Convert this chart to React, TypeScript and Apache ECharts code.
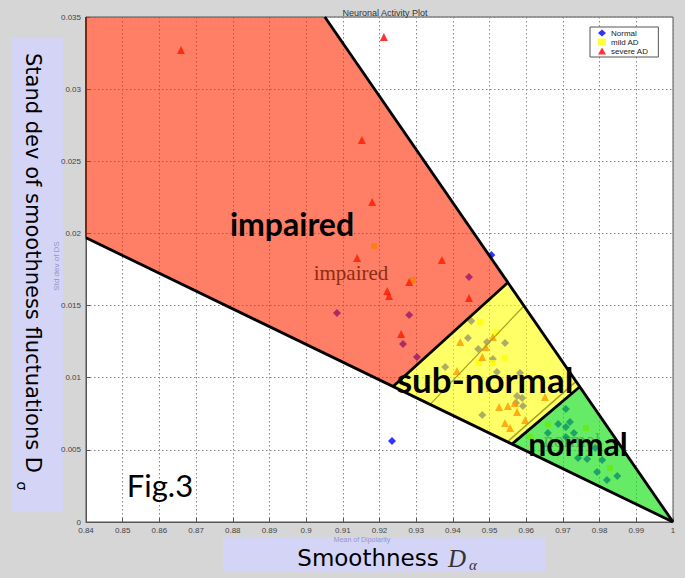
import React, { useEffect, useRef } from 'react';
import * as echarts from 'echarts';

// ---- axes ----
const X_MIN = 0.84;
const X_MAX = 1;
const X_STEP = 0.01;
const Y_MIN = 0;
const Y_MAX = 0.035;
const Y_STEP = 0.005;

const chartTitle = 'Neuronal Activity Plot';
const seriesNames = ['Normal', 'mild AD', 'severe AD'];

// ---- data points [mean of dipolarity, std dev] ----
const normalPoints: [number, number][] = [
  [0.9084, 0.01448], [0.9281, 0.01435], [0.9264, 0.01234], [0.9302, 0.01143],
  [0.9444, 0.01698], [0.9505, 0.0185], [0.9234, 0.00561],
  [0.945, 0.01393], [0.9441, 0.01275], [0.9469, 0.01199], [0.9493, 0.01247],
  [0.952, 0.0104], [0.9509, 0.0113], [0.9542, 0.0124], [0.9379, 0.01074],
  [0.9575, 0.00873], [0.9589, 0.00859], [0.9583, 0.01033], [0.948, 0.00742],
  [0.9572, 0.00825], [0.9591, 0.00804],
  [0.9708, 0.00783], [0.9719, 0.00693], [0.9708, 0.00658], [0.9687, 0.00679],
  [0.973, 0.00617], [0.9659, 0.00617], [0.9708, 0.00589], [0.9741, 0.00444],
  [0.9766, 0.00437], [0.9793, 0.00347], [0.9807, 0.0043], [0.982, 0.00291],
  [0.9848, 0.00319], [0.9788, 0.00513],
];

const mildPoints: [number, number][] = [
  [0.9185, 0.01913], [0.9291, 0.01677], [0.9474, 0.01386], [0.952, 0.01317],
  [0.9509, 0.01102], [0.9542, 0.01137], [0.9471, 0.01102], [0.9763, 0.00651],
  [0.9828, 0.00374], [0.961, 0.00589], [0.9659, 0.00679],
];

const severePoints: [number, number][] = [
  [0.8659, 0.03271], [0.9212, 0.03361], [0.9152, 0.02647], [0.918, 0.02218],
  [0.9139, 0.0183], [0.937, 0.01816], [0.9281, 0.01663], [0.9221, 0.01601],
  [0.9226, 0.01566], [0.9444, 0.01552], [0.9259, 0.01303],
  [0.942, 0.01247], [0.9509, 0.01282], [0.949, 0.01213], [0.948, 0.01143],
  [0.9411, 0.01046], [0.9526, 0.00797], [0.955, 0.00804], [0.9569, 0.00825],
  [0.9575, 0.00762], [0.9542, 0.00686], [0.9556, 0.00651], [0.9597, 0.00707],
  [0.9651, 0.00866], [0.9501, 0.00929],
];

// ---- regions ----
const impairedRegion: [number, number][] = [
  [0.84, 0.035], [0.9051, 0.035], [0.955, 0.0166], [0.9237, 0.00939], [0.84, 0.0197],
];
const subNormalRegion: [number, number][] = [
  [0.955, 0.0166], [0.9746, 0.00937], [0.9561, 0.0054], [0.9237, 0.00939],
];
const normalRegion: [number, number][] = [
  [0.9746, 0.00937], [1, 0], [0.9561, 0.0054],
];

// ---- boundary lines ----
const rightEdge: [number, number][] = [[0.9051, 0.035], [1, 0]];
const lowerEdge: [number, number][] = [[0.84, 0.0197], [1, 0]];
const impairedSubEdge: [number, number][] = [[0.955, 0.0166], [0.9237, 0.00939]];
const subNormalEdge: [number, number][] = [[0.9746, 0.00937], [0.9561, 0.0054]];
const innerLineA: [number, number][] = [[0.9591, 0.0149], [0.9338, 0.00815]];
const innerLineB: [number, number][] = [[0.9736, 0.00975], [0.9549, 0.00556]];
const leftEdge: [number, number][] = [[0.84, 0.0197], [0.84, 0.035]];

const fmt = (v: number) => String(+v.toFixed(3));

function regionSeries(verts: [number, number][], fill: string, z: number) {
  return {
    type: 'custom',
    coordinateSystem: 'cartesian2d',
    silent: true,
    z,
    data: [verts[0]],
    renderItem: (_p: any, api: any) => ({
      type: 'polygon',
      shape: { points: verts.map((v) => api.coord(v)) },
      style: { fill, stroke: 'none' },
    }),
  };
}

export default function App() {
  const ref = useRef<HTMLDivElement>(null);

  useEffect(() => {
    if (!ref.current) return;
    const chart = echarts.init(ref.current, undefined, { renderer: 'svg' });

    const lines = [
      { pts: innerLineA, color: '#a8a020', width: 1.2 },
      { pts: innerLineB, color: '#a8a020', width: 1.5 },
      { pts: leftEdge, color: '#7a2a10', width: 2 },
      { pts: rightEdge, color: '#000', width: 2.8 },
      { pts: lowerEdge, color: '#000', width: 2.8 },
      { pts: impairedSubEdge, color: '#000', width: 2.8 },
      { pts: subNormalEdge, color: '#000', width: 2.8 },
    ];

    const option: any = {
      animation: false,
      backgroundColor: '#d6d6d6',
      title: {
        text: chartTitle,
        left: 380,
        top: 3,
        textAlign: 'center',
        textStyle: { fontSize: 9, fontWeight: 'normal', color: '#333', fontFamily: 'Liberation Sans' },
      },
      legend: {
        orient: 'vertical',
        left: 590,
        top: 27,
        data: [
          { name: seriesNames[0], icon: 'diamond' },
          { name: seriesNames[1], icon: 'rect' },
          { name: seriesNames[2], icon: 'triangle' },
        ],
        itemWidth: 8,
        itemHeight: 7,
        itemGap: 1,
        itemTextGap: 4,
        backgroundColor: '#fff',
        borderColor: '#555',
        borderWidth: 1,
        borderRadius: 0,
        padding: [2, 10, 2, 8],
        textStyle: { fontSize: 8, color: '#222', lineHeight: 8, fontFamily: 'Liberation Sans' },
      },
      grid: {
        left: 86,
        right: 12,
        top: 17,
        bottom: 56,
        show: true,
        backgroundColor: '#fff',
        borderColor: '#555',
        borderWidth: 1,
      },
      xAxis: {
        type: 'value',
        min: X_MIN,
        max: X_MAX,
        interval: X_STEP,
        axisLine: { show: true, lineStyle: { color: '#555' } },
        axisTick: { show: true, inside: true, length: 4, lineStyle: { color: '#555' } },
        axisLabel: { fontSize: 8, color: '#444', margin: 4, formatter: fmt, fontFamily: 'Liberation Sans' },
        splitLine: { show: true, lineStyle: { color: '#888', type: [1.5, 2.5], width: 1 } },
      },
      yAxis: {
        type: 'value',
        min: Y_MIN,
        max: Y_MAX,
        interval: Y_STEP,
        axisLine: { show: true, lineStyle: { color: '#555' } },
        axisTick: { show: true, inside: true, length: 4, lineStyle: { color: '#555' } },
        axisLabel: { fontSize: 8, color: '#444', margin: 5, formatter: fmt, fontFamily: 'Liberation Sans' },
        splitLine: { show: true, lineStyle: { color: '#888', type: [1.5, 2.5], width: 1 } },
      },
      series: [
        {
          type: 'scatter', name: seriesNames[0], data: normalPoints, symbol: 'diamond',
          symbolSize: 8, itemStyle: { color: '#0000ff' }, z: 2,
        },
        {
          type: 'scatter', name: seriesNames[1], data: mildPoints, symbol: 'rect',
          symbolSize: 6, itemStyle: { color: '#ffff00' }, z: 2,
        },
        {
          type: 'scatter', name: seriesNames[2], data: severePoints, symbol: 'triangle',
          symbolSize: 8, itemStyle: { color: '#ff0000' }, z: 2,
        },
        regionSeries(impairedRegion, 'rgba(255,40,0,0.6)', 3),
        regionSeries(subNormalRegion, 'rgba(255,255,0,0.6)', 3),
        regionSeries(normalRegion, 'rgba(20,225,20,0.65)', 3),
        {
          type: 'custom',
          coordinateSystem: 'cartesian2d',
          silent: true,
          z: 5,
          data: [lowerEdge[0]],
          renderItem: (_p: any, api: any) => ({
            type: 'group',
            children: lines.map((l) => ({
              type: 'polyline',
              shape: { points: l.pts.map((v) => api.coord(v)) },
              style: { stroke: l.color, lineWidth: l.width, fill: 'none' },
            })),
          }),
        },
      ],
      graphic: [
        { type: 'rect', z: -1, shape: { x: 12, y: 38, width: 51, height: 474 }, style: { fill: '#d4d4f6' } },
        { type: 'rect', z: -1, shape: { x: 223, y: 537, width: 322, height: 35 }, style: { fill: '#d4d4f6' } },
        {
          type: 'text', z: 100, x: 33, y: 263, rotation: -Math.PI / 2,
          style: {
            text: 'Stand dev of smoothness fluctuations D', fontSize: 21, fontFamily: 'DejaVu Sans',
            fill: '#000', align: 'center', verticalAlign: 'middle',
          },
        },
        {
          type: 'text', z: 100, x: 22, y: 486, rotation: -Math.PI / 2,
          style: { text: 'σ', fontSize: 14, fontFamily: 'DejaVu Sans', fill: '#000', align: 'center', verticalAlign: 'middle' },
        },
        {
          type: 'text', z: 100, x: 56, y: 266, rotation: Math.PI / 2,
          style: { text: 'Std dev of DS', fontSize: 8, fontFamily: 'Liberation Sans', fill: '#9494c8', align: 'center', verticalAlign: 'middle' },
        },
        {
          type: 'text', z: 100, x: 362, y: 539.5,
          style: { text: 'Mean of Dipolarity', fontSize: 7, fontFamily: 'Liberation Sans', fill: '#9494c8', align: 'center', verticalAlign: 'middle' },
        },
        {
          type: 'text', z: 100, x: 368, y: 558,
          style: { text: 'Smoothness', fontSize: 23, fontFamily: 'DejaVu Sans', fill: '#000', align: 'center', verticalAlign: 'middle' },
        },
        {
          type: 'text', z: 100, x: 457, y: 558,
          style: { text: 'D', fontSize: 25, fontFamily: 'Liberation Serif', fontStyle: 'italic', fill: '#333', align: 'center', verticalAlign: 'middle' },
        },
        {
          type: 'text', z: 100, x: 473, y: 565,
          style: { text: 'α', fontSize: 15, fontFamily: 'Liberation Serif', fontStyle: 'italic', fill: '#333', align: 'center', verticalAlign: 'middle' },
        },
        {
          type: 'text', z: 100, x: 292, y: 223,
          style: { text: 'impaired', fontSize: 32, fontWeight: 'bold', fontFamily: 'Lato', fill: '#000', align: 'center', verticalAlign: 'middle' },
        },
        {
          type: 'text', z: 100, x: 351, y: 273,
          style: { text: 'impaired', fontSize: 21, fontFamily: 'Liberation Serif', fill: '#8e2c10', align: 'center', verticalAlign: 'middle' },
        },
        {
          type: 'text', z: 100, x: 485, y: 379,
          style: { text: 'sub-normal', fontSize: 35, fontWeight: 'bold', fontFamily: 'Lato', fill: '#000', align: 'center', verticalAlign: 'middle' },
        },
        {
          type: 'text', z: 99, x: 572, y: 440,
          style: { text: 'normal', fontSize: 20, fontFamily: 'Liberation Serif', fill: 'rgba(60,110,60,0.45)', align: 'center', verticalAlign: 'middle' },
        },
        {
          type: 'text', z: 100, x: 578, y: 443,
          style: { text: 'normal', fontSize: 32, fontWeight: 'bold', fontFamily: 'Lato', fill: '#000', align: 'center', verticalAlign: 'middle' },
        },
        {
          type: 'text', z: 100, x: 160, y: 485,
          style: { text: 'Fig.3', fontSize: 31, fontFamily: 'Lato', fill: '#000', align: 'center', verticalAlign: 'middle' },
        },
      ],
    };

    chart.setOption(option);
    return () => chart.dispose();
  }, []);

  return (
    <div
      ref={ref}
      style={{ position: 'absolute', left: 0, top: 0, width: 685, height: 578 }}
    />
  );
}
